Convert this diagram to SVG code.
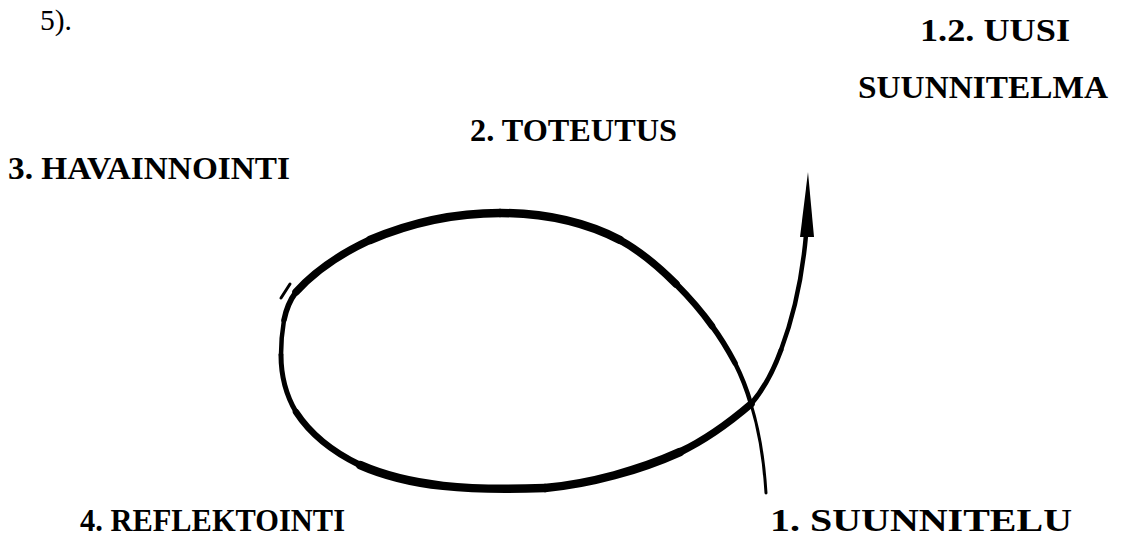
<svg xmlns="http://www.w3.org/2000/svg" width="1122" height="543" viewBox="0 0 1122 543">
<style>
.lbl{font-weight:bold;font-size:31px;fill:#000}
.reg{font-size:29px;fill:#000}
.c{fill:none;stroke:#000;stroke-linecap:round;stroke-linejoin:round}
</style>
<rect width="1122" height="543" fill="#fff"/>
<g font-family="'Liberation Serif', 'Times New Roman', Tinos, 'DejaVu Serif', serif">
<text class="reg" x="40" y="30" textLength="32" lengthAdjust="spacingAndGlyphs">5).</text>
<g id="n-uusi"><text class="lbl" x="920" y="41" textLength="150" lengthAdjust="spacingAndGlyphs">1.2. UUSI</text><text class="lbl" x="858" y="98" textLength="250" lengthAdjust="spacingAndGlyphs">SUUNNITELMA</text></g>
<g id="n-toteutus"><text class="lbl" x="470" y="141" textLength="207" lengthAdjust="spacingAndGlyphs">2. TOTEUTUS</text></g>
<g id="n-havainnointi"><text class="lbl" x="8" y="179" textLength="282" lengthAdjust="spacingAndGlyphs">3. HAVAINNOINTI</text></g>
<g id="n-reflektointi"><text class="lbl" x="80" y="531" textLength="265" lengthAdjust="spacingAndGlyphs">4. REFLEKTOINTI</text></g>
<g id="n-suunnitelu"><text class="lbl" x="770" y="531" textLength="302" lengthAdjust="spacingAndGlyphs">1. SUUNNITELU</text></g>
</g>
<g id="connectors">
<path class="c" stroke-width="3" d="M766,493 C764,460 759,430 751,404"/>
<path class="c" stroke-width="4.5" d="M751,404 C747,390 742,377 735,363"/>
<path class="c" stroke-width="5.5" d="M735,363 C728,350 721,338 712,326"/>
<path class="c" stroke-width="6.5" d="M712,326 C702,312 690,298 676,284"/>
<path class="c" stroke-width="7.5" d="M676,284 C660,268 642,252 620,240"/>
<path class="c" stroke-width="8.5" d="M620,240 C585,222 545,213 500,213"/>
<path class="c" stroke-width="8.5" d="M500,213 C455,213 410,223 370,240"/>
<path class="c" stroke-width="7.5" d="M370,240 C340,254 314,272 296,292"/>
<path class="c" stroke-width="5.5" d="M296,292 C290,300 286,310 284,320"/>
<path class="c" stroke-width="4.5" d="M284,320 C282,332 281,344 281,355"/>
<path class="c" stroke-width="5" d="M281,355 C281,375 286,395 296,412"/>
<path class="c" stroke-width="6.5" d="M296,412 C311,435 333,452 360,465"/>
<path class="c" stroke-width="8.5" d="M360,465 C410,487 470,491 545,488"/>
<path class="c" stroke-width="8.5" d="M545,488 C590,484 640,470 680,452"/>
<path class="c" stroke-width="7.5" d="M680,452 C705,440 730,422 751,404"/>
<path class="c" stroke-width="5" d="M751,404 C763,390 773,372 781,350"/>
<path class="c" stroke-width="4.5" d="M781,350 C793,318 802,280 806,235"/>
<polygon points="808,172 800,237 814,237" fill="#000"/>
<path class="c" stroke-width="3" d="M281,298 L290,284"/>
</g>
</svg>
